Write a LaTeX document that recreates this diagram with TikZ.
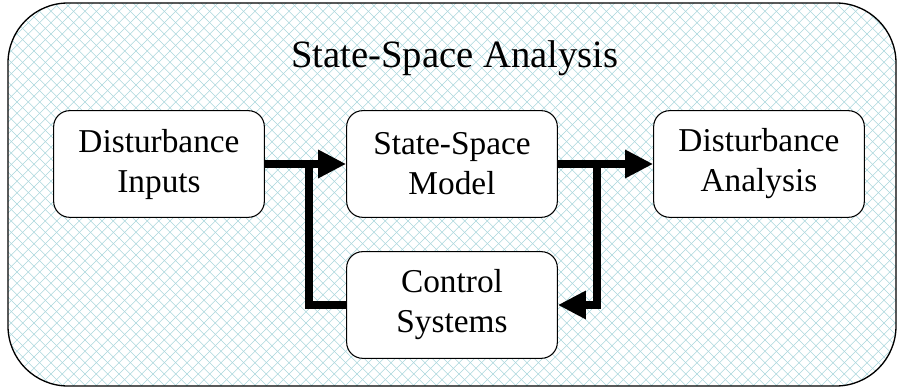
\documentclass[tikz,border=0pt]{standalone}
\usepackage{fontspec}
\setmainfont{Liberation Serif}
\usetikzlibrary{arrows.meta,patterns.meta}

\definecolor{hatchblue}{RGB}{170,214,220}

% light diagonal cross-hatch for the frame
\tikzdeclarepattern{
  name=diamonds,
  type=uncolored,
  bottom left={(-.1pt,-.1pt)},
  top right={(8.6pt,8.6pt)},
  tile size={(8.5pt,8.5pt)},
  code={
    \draw[line width=.4pt] (0,0) -- (8.5pt,8.5pt);
    \draw[line width=.4pt] (0,8.5pt) -- (8.5pt,0);
  }
}

\begin{document}
\begin{tikzpicture}
  [x=.75pt,y=-.75pt,every node/.style={font=\rmfamily\fontsize{25}{30}\selectfont}]
  \tikzstyle{block} = [draw,rounded corners=12pt,fill=white,align=center,
    minimum width=158pt,minimum height=80pt,line width=.8pt]
  \tikzstyle{flow} = [line width=6.3pt,-{Triangle[length=21pt,width=20pt]}]
  \useasboundingbox (0,0) rectangle (904,391);
  \draw[line width=1pt,rounded corners=45pt,pattern={diamonds},pattern color=hatchblue]
    (8,3) rectangle (896,386);
  \node[font=\rmfamily\fontsize{29}{34}\selectfont] (title) at (455,58) {State-Space Analysis};
  \node[block] (inputs)   at (159,164) {Disturbance\\Inputs};
  \node[block] (model)    at (452,164) {State-Space\\Model};
  \node[block] (analysis) at (759,164) {Disturbance\\Analysis};
  \node[block] (control)  at (452,305) {Control\\Systems};
  \coordinate (fork) at (597,164);
  \coordinate (join) at (309,164);
  \foreach \source /\dest in {inputs/model,model/analysis}
    \draw[flow] (\source) -- (\dest);
  \draw[flow] (fork) |- (control);
  \draw[line width=6.3pt] (control) -| (join);
\end{tikzpicture}
\end{document}
